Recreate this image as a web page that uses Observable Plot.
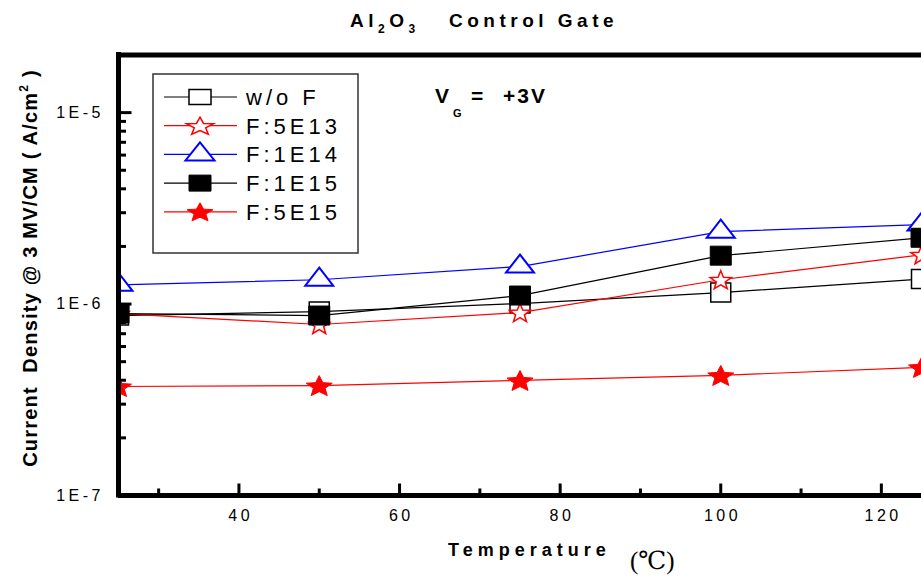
<!DOCTYPE html>
<html><head><meta charset="utf-8">
<script src="https://cdn.jsdelivr.net/npm/d3@7"></script>
<script src="https://cdn.jsdelivr.net/npm/@observablehq/plot@0.6"></script>
<style>
html,body{margin:0;padding:0;background:#fff;overflow:hidden}
</style>
</head><body><div id="chart"></div>
<script>
// ---- data ----
const temperatures = [25, 50, 75, 100, 125];
const seriesNames = ["w/o F", "F:5E13", "F:1E14", "F:1E15", "F:5E15"];
const woF   = [8.71e-7, 9.14e-7, 1.006e-6, 1.148e-6, 1.35e-6];
const f5e13 = [8.92e-7, 7.82e-7, 9.03e-7, 1.34e-6, 1.81e-6];
const f1e14 = [1.26e-6, 1.34e-6, 1.57e-6, 2.39e-6, 2.60e-6];
const f1e15 = [8.92e-7, 8.71e-7, 1.108e-6, 1.79e-6, 2.22e-6];
const f5e15 = [3.71e-7, 3.75e-7, 3.99e-7, 4.24e-7, 4.67e-7];
const yMajorTicks = [1e-7, 1e-6, 1e-5];
const yTickLabels = ["1E-7", "1E-6", "1E-5"];
const yMinorTicks = [2e-7, 3e-7, 4e-7, 5e-7, 6e-7, 7e-7, 8e-7, 9e-7, 2e-6, 3e-6, 4e-6, 5e-6, 6e-6, 7e-6, 8e-6, 9e-6];
const xMajorTicks = [40, 60, 80, 100, 120];
const xTickLabels = ["40", "60", "80", "100", "120"];
const xMinorTicks = [30, 50, 70, 90, 110];

const seriesValues = [woF, f5e13, f1e14, f1e15, f5e15];
const rows = seriesNames.flatMap((name, i) => temperatures.map((t, j) => ({series: name, temp: t, value: seriesValues[i][j]})));

// ---- symbols ----
function rectSym(w, h) { return {draw(c) { c.moveTo(-w/2, -h/2); c.lineTo(w/2, -h/2); c.lineTo(w/2, h/2); c.lineTo(-w/2, h/2); c.closePath(); }}; }
function triSym(w, h) { return {draw(c) { c.moveTo(0, -2*h/3); c.lineTo(w/2, h/3); c.lineTo(-w/2, h/3); c.closePath(); }}; }
function starSym(w, h, inner) {
  const c36 = Math.cos(Math.PI/5), s72 = Math.sin(2*Math.PI/5);
  const sx = w / (2*s72), sy = h / (1 + c36), oy = (1 - c36) / 2;
  return {draw(c) {
    for (let k = 0; k < 10; k++) {
      const a = -Math.PI/2 + k*Math.PI/5, r = k % 2 ? inner : 1;
      const x = r*Math.cos(a)*sx, y = (r*Math.sin(a) + oy)*sy;
      k ? c.lineTo(x, y) : c.moveTo(x, y);
    }
    c.closePath();
  }};
}
function hLine(len) { return {draw(c) { c.moveTo(0, 0); c.lineTo(len, 0); }}; }
function vLine(len) { return {draw(c) { c.moveTo(0, 0); c.lineTo(0, -len); }}; }

const styles = [
  {color: "#000000", fill: "#ffffff", sym: rectSym(20, 19), leg: rectSym(22, 15), sw: 1.5},
  {color: "#ff0000", fill: "#ffffff", sym: starSym(21, 18, 0.42), leg: starSym(27, 17, 0.42), sw: 1.5},
  {color: "#0000ff", fill: "#ffffff", sym: triSym(28, 18), leg: triSym(29, 18), sw: 2},
  {color: "#000000", fill: "#000000", sym: rectSym(21, 19), leg: rectSym(22, 16), sw: 1},
  {color: "#ff0000", fill: "#ff0000", sym: starSym(26, 20, 0.45), leg: starSym(26, 18, 0.45), sw: 1}
];

const seriesMarks = seriesNames.flatMap((name, i) => {
  const d = rows.filter(r => r.series === name);
  return [
    Plot.line(d, {x: "temp", y: "value", stroke: styles[i].color, strokeWidth: 1.2, clip: true}),
    Plot.dot(d, {x: "temp", y: "value", symbol: styles[i].sym, r: 1, stroke: styles[i].color, fill: styles[i].fill, strokeWidth: styles[i].sw, clip: true})
  ];
});

const sans = "'Liberation Sans', Arial, sans-serif";
const chart = Plot.plot({
  width: 921, height: 576,
  marginLeft: 118, marginRight: 0, marginTop: 54.5, marginBottom: 81,
  style: {fontFamily: sans, background: "#fff"},
  x: {domain: [25, 125], axis: null},
  y: {type: "log", domain: [1e-7, 2e-5], axis: null},
  marks: [
    ...seriesMarks,
    Plot.dot(yMajorTicks, {y: d => d, frameAnchor: "left", symbol: hLine(13), r: 1, stroke: "#000", strokeWidth: 3}),
    Plot.dot(yMinorTicks, {y: d => d, frameAnchor: "left", symbol: hLine(7.5), r: 1, stroke: "#000", strokeWidth: 3}),
    Plot.dot(xMajorTicks, {x: d => d, frameAnchor: "bottom", symbol: vLine(12), r: 1, stroke: "#000", strokeWidth: 3}),
    Plot.dot(xMinorTicks, {x: d => d, frameAnchor: "bottom", symbol: vLine(7), r: 1, stroke: "#000", strokeWidth: 3}),
    Plot.ruleX([25], {strokeWidth: 5, strokeLinecap: "square"}),
    Plot.ruleY([1e-7, 2e-5], {strokeWidth: 5}),
    Plot.text(yMajorTicks, {y: d => d, frameAnchor: "left", text: (d, i) => yTickLabels[i], textAnchor: "end", dx: -14.5, fontSize: 16, fill: "#000"}),
    Plot.text(xMajorTicks, {x: d => d, frameAnchor: "bottom", text: (d, i) => xTickLabels[i], dy: 25, dx: 1.75, fontSize: 16, fill: "#000"})
  ]
});
document.getElementById("chart").appendChild(chart);

// ---- annotations, titles, legend ----
const svg = d3.select(chart);
svg.selectAll("text").attr("letter-spacing", 3.5).attr("font-size", 16);   // tick labels only (added before others)

const title = svg.append("text").attr("x", 350).attr("y", 27).attr("text-anchor", "start")
  .attr("font-family", sans).attr("font-weight", "bold").attr("font-size", 19).attr("letter-spacing", 4.5).attr("fill", "#000")
  .style("white-space", "pre");
title.append("tspan").text("Al");
title.append("tspan").attr("font-size", 12).attr("dy", 6).text("2");
title.append("tspan").attr("dy", -6).text("O");
title.append("tspan").attr("font-size", 12).attr("dy", 6).text("3");
title.append("tspan").attr("dy", -6).text("   Control Gate");

// V_G = +3V
const vg = svg.append("g").attr("font-family", sans).attr("font-weight", "bold").attr("fill", "#000").attr("text-anchor", "start");
vg.append("text").attr("x", 435).attr("y", 103).attr("font-size", 21).text("V");
vg.append("text").attr("x", 453).attr("y", 117).attr("font-size", 11).text("G");
vg.append("text").attr("x", 471).attr("y", 103).attr("font-size", 21).text("=");
vg.append("text").attr("x", 503).attr("y", 103).attr("font-size", 21).attr("letter-spacing", 2).text("+3V");

// legend
const leg = svg.append("g").attr("text-anchor", "start");
leg.append("rect").attr("x", 153).attr("y", 74).attr("width", 205).attr("height", 179)
  .attr("fill", "#fff").attr("stroke", "#333").attr("stroke-width", 1.5);
seriesNames.forEach((name, i) => {
  const cy = 97 + i * 28.7;
  leg.append("line").attr("x1", 164).attr("x2", 237).attr("y1", cy).attr("y2", cy)
    .attr("stroke", styles[i].color).attr("stroke-width", 1.2);
  leg.append("path").attr("transform", `translate(200,${cy})`)
    .attr("d", d3.symbol().type(styles[i].leg)())
    .attr("fill", styles[i].fill).attr("stroke", styles[i].color).attr("stroke-width", styles[i].sw);
  leg.append("text").attr("x", 246).attr("y", cy + 8).attr("font-family", sans).attr("font-size", 22)
    .attr("letter-spacing", 4).attr("fill", "#000").style("white-space", "pre").text(name);
});

// y-axis title
const yt = svg.append("text").attr("transform", "translate(37,268) rotate(-90)").attr("text-anchor", "middle")
  .attr("font-family", sans).attr("font-weight", "bold").attr("font-size", 20).attr("letter-spacing", 1.2).attr("fill", "#000")
  .style("white-space", "pre");
yt.append("tspan").text("Current  Density @ 3 MV/CM ( A/cm");
yt.append("tspan").attr("font-size", 12).attr("dy", -9).text("2");
yt.append("tspan").attr("dy", 9).text(" )");

// x-axis title
svg.append("text").attr("x", 448).attr("y", 556).attr("text-anchor", "start").attr("font-family", sans).attr("font-weight", "bold")
  .attr("font-size", 18).attr("letter-spacing", 5).attr("fill", "#000").text("Temperature");
svg.append("text").attr("x", 630).attr("y", 569).attr("text-anchor", "start").attr("font-family", "'Liberation Serif', 'DejaVu Serif', serif")
  .attr("font-size", 25).attr("fill", "#000").text("(℃)");
</script>
</body></html>
